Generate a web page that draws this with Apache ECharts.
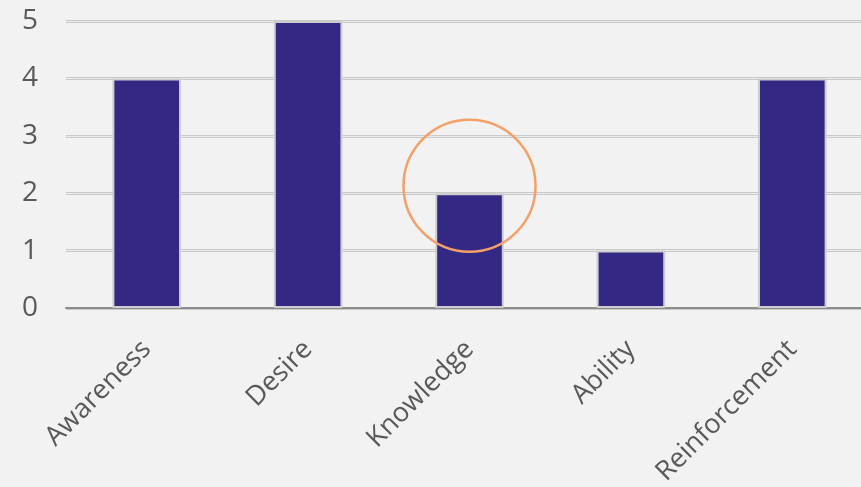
<!DOCTYPE html>
<html>
<head>
<meta charset="utf-8">
<script src="https://cdn.jsdelivr.net/npm/echarts@6/dist/echarts.min.js"></script>
<style>
  html, body { margin: 0; padding: 0; background: #f2f2f2; }
  #chart { width: 861px; height: 487px; }
</style>
</head>
<body>
<div id="chart"></div>
<script>
(function () {
  "use strict";

  // Data
  const categories = ['Awareness', 'Desire', 'Knowledge', 'Ability', 'Reinforcement'];
  const scores = [4, 5, 2, 1, 4];
  const yTicks = [0, 1, 2, 3, 4, 5];
  // highlighted category and the circle's centre value / radius (in value units)
  const highlight = { category: 'Knowledge', value: 2.13, radius: 1.15 };

  const textColor = '#595959';
  const fontFamily = '"Open Sans", "Noto Sans", sans-serif';

  const chart = echarts.init(document.getElementById('chart'));

  const valueAxis = {
    type: 'value',
    min: yTicks[0],
    max: yTicks[yTicks.length - 1],
    interval: 1,
    axisLine: { show: false },
    axisTick: { show: false }
  };

  chart.setOption({
    backgroundColor: '#f2f2f2',
    animation: false,
    grid: { left: 66, right: -12, top: 21, bottom: 179, outerBoundsMode: 'none', containLabel: false },
    xAxis: {
      type: 'category',
      data: categories,
      axisLine: { show: true, lineStyle: { color: '#8c8c8c', width: 2 } },
      axisTick: { show: false },
      axisLabel: {
        rotate: 45,
        margin: 37,
        color: textColor,
        fontSize: 27,
        fontFamily: fontFamily,
        interval: 0
      }
    },
    yAxis: [
      Object.assign({}, valueAxis, {
        axisLabel: { color: textColor, fontSize: 28, fontFamily: fontFamily, margin: 28 },
        splitLine: { show: true, lineStyle: { color: '#c9c9c9', width: 3 } }
      }),
      Object.assign({}, valueAxis, {
        position: 'left',
        axisLabel: { show: false },
        splitLine: { show: true, lineStyle: { color: '#ececec', width: 1 } }
      })
    ],
    series: [{
      type: 'bar',
      data: scores,
      barWidth: '42.5%',
      itemStyle: { color: '#332884', borderColor: '#cdcdcd', borderWidth: 2 },
      z: 3
    }]
  });

  // Orange highlight circle, placed through the chart's own scales
  const c = chart.convertToPixel({ gridIndex: 0 }, [highlight.category, highlight.value]);
  const p0 = chart.convertToPixel({ yAxisIndex: 0 }, 0);
  const p1 = chart.convertToPixel({ yAxisIndex: 0 }, highlight.radius);
  chart.setOption({
    graphic: [{
      type: 'circle',
      shape: { cx: c[0], cy: c[1], r: Math.abs(p0 - p1) },
      style: { fill: 'none', stroke: '#f4a068', lineWidth: 2.5 },
      z: 10
    }]
  });
})();
</script>
</body>
</html>
